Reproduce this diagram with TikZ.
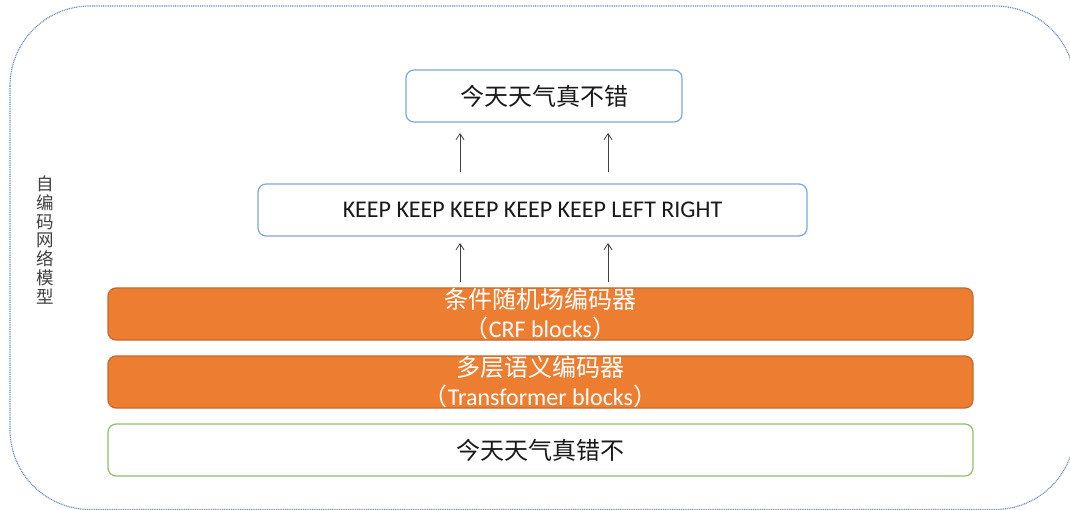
\documentclass[tikz,border=0pt]{standalone}
\usepackage{fontspec}
\setmainfont{Carlito}
\newfontfamily\cjk{Noto Sans CJK SC}
\usetikzlibrary{arrows.meta}
\definecolor{bordblue}{HTML}{7EA6DC}
\definecolor{outerblue}{HTML}{6F8DBA}
\definecolor{orangefill}{HTML}{ED7D31}
\definecolor{orangedraw}{HTML}{C6682C}
\definecolor{greendraw}{HTML}{8CC16A}
\definecolor{txtdark}{HTML}{1A1A1A}
\definecolor{txtgray}{HTML}{404040}
\definecolor{arrgray}{HTML}{404040}
\begin{document}
\begin{tikzpicture}[x=1pt,y=-1pt,
  box/.style={draw, rounded corners=8pt, line width=1.2pt, inner sep=0pt, anchor=center, align=center},
  bluebox/.style={box, draw=bordblue, fill=white, text=txtdark, font=\fontsize{24}{29}\selectfont},
  orangebox/.style={box, draw=orangedraw, fill=orangefill, text=white, minimum width=865pt, minimum height=52pt, font=\fontsize{24}{29}\selectfont},
  greenbox/.style={box, draw=greendraw, fill=white, text=txtdark, minimum width=865pt, minimum height=52pt, font=\fontsize{24}{29}\selectfont},
  arr/.style={draw=arrgray, line width=0.8pt, -{Straight Barb[length=6pt,width=8pt]}},
  sidelabel/.style={inner sep=0pt, align=center, text=txtgray, font=\fontsize{17.5}{18.8}\selectfont\cjk}
]
\useasboundingbox (0,0) rectangle (1070,510);
\clip (0,0) rectangle (1070,510);
\draw[outerblue, line width=1.2pt, dash pattern=on 1pt off 0.8pt, rounded corners=80pt] (10,6) rectangle (1075,509.5);

\node[bluebox, minimum width=276pt, minimum height=52pt] (top) at (544,96) {\cjk 今天天气真不错};
\node[bluebox, minimum width=549pt, minimum height=52pt] (mid) at (532.5,210) {KEEP KEEP KEEP KEEP KEEP LEFT RIGHT};
\node[orangebox] (crf) at (540.5,314) {\cjk 条件随机场编码器\\{\cjk （}CRF blocks{\cjk ）}};
\node[orangebox] (trf) at (540.5,382) {\cjk 多层语义编码器\\{\cjk （}Transformer blocks{\cjk ）}};
\node[greenbox] (inp) at (540.5,450) {\cjk 今天天气真错不};
\node[sidelabel] (side) at (45,240) {自\\编\\码\\网\\络\\模\\型};

\coordinate (a1s) at (460,172); \coordinate (a1e) at (460,133);
\coordinate (a2s) at (608,172); \coordinate (a2e) at (608,133);
\coordinate (b1s) at (460,282); \coordinate (b1e) at (460,243);
\coordinate (b2s) at (608,282); \coordinate (b2e) at (608,243);
\draw[arr] (a1s) -- (a1e);
\draw[arr] (a2s) -- (a2e);
\draw[arr] (b1s) -- (b1e);
\draw[arr] (b2s) -- (b2e);
\end{tikzpicture}
\end{document}
